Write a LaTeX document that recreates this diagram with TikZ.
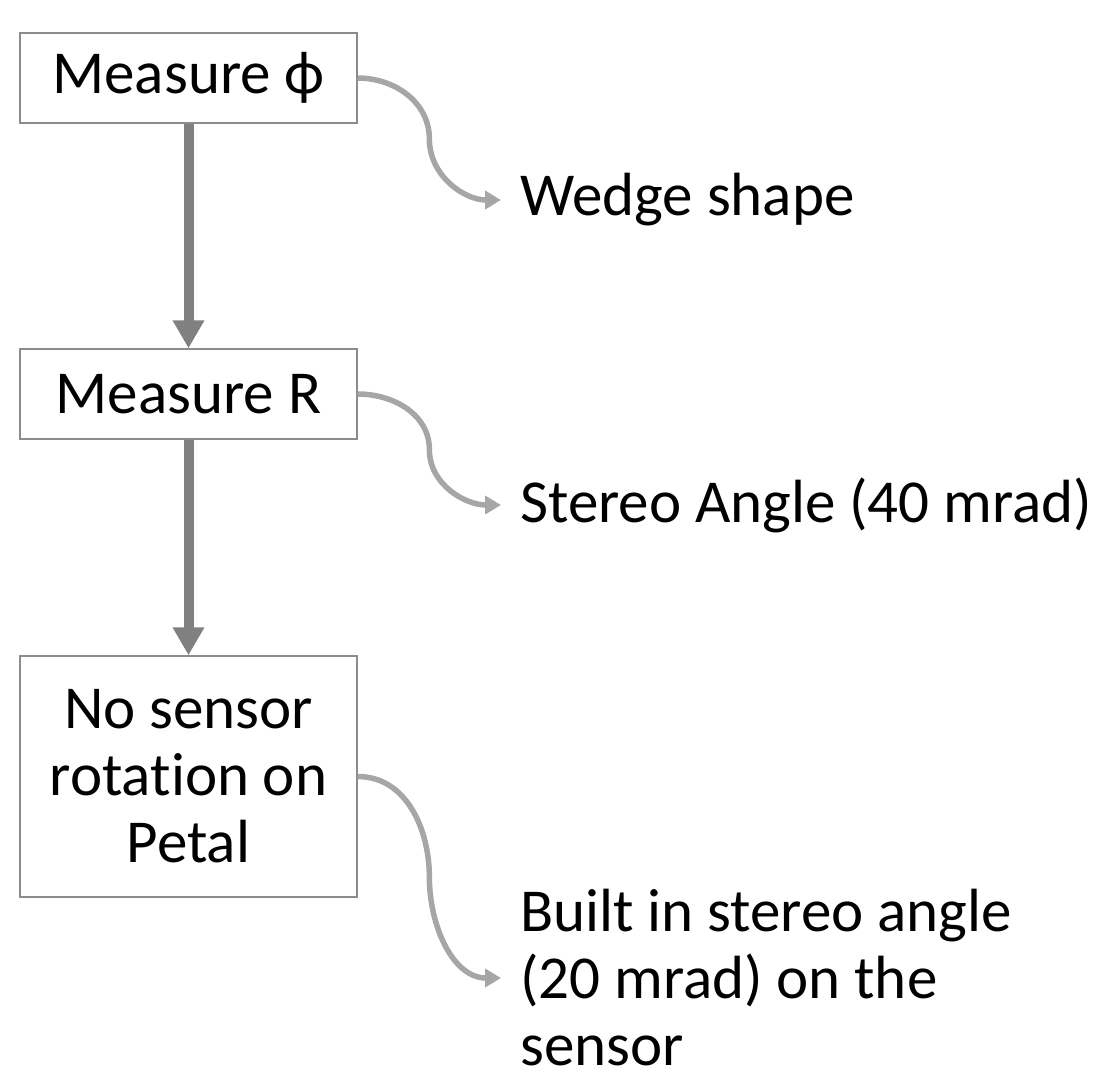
\documentclass[tikz,border=0pt]{standalone}
\usepackage{fontspec}
\setmainfont{Carlito}[Ligatures=NoCommon]
\usetikzlibrary{arrows.meta,calc}

\begin{document}
\begin{tikzpicture}[x=1pt,y=-1pt,
    caja/.style={draw=black!45, line width=1.5pt, minimum width=337pt, minimum height=90pt,
      align=center, inner sep=0pt, font=\fontsize{61}{67}\selectfont},
    texto/.style={anchor=west, align=left, inner sep=0pt, font=\fontsize{61}{67}\selectfont},
    flecha/.style={line width=10pt, draw=black!50, -{Triangle[width=30pt,length=28pt]}},
    curva/.style={line width=5.5pt, draw=black!35, -{Triangle[width=18pt,length=16pt]}}]
        \useasboundingbox (0,0) rectangle (1106,1082);

        % Cajas
        \node[caja] (phi) at (188.5,78) {Measure ϕ};
        \node[caja] (radio) at (188.5,394) {Measure R};
        \node[caja, minimum height=241pt] (petalo) at (188.5,776.5) {No sensor\\rotation on\\Petal};

        % Textos a la derecha
        \node[texto] (cuna) at (520,200) {Wedge shape};
        \node[texto] (estereo) at (520,505) {Stereo Angle (40 mrad)};
        \node[texto] (sensor) at (520,978) {Built in stereo angle\\(20 mrad) on the\\sensor};

        % puntas de las curvas
        \coordinate (p1) at ([xshift=-19pt]cuna.west);
        \coordinate (p2) at ([xshift=-19pt]estereo.west);
        \coordinate (p3) at ([xshift=-19pt]sensor.west);

        % Flechas verticales
        \draw[flecha] (phi) -- (radio);
        \draw[flecha] (radio) -- (petalo);

        % Curvas
        \draw[curva] (phi.east) to[out=0,in=90] ($(phi.east)!0.5!(p1)$) to[out=-90,in=180] (p1);
        \draw[curva] (radio.east) to[out=0,in=90] ($(radio.east)!0.5!(p2)$) to[out=-90,in=180] (p2);
        \draw[curva] (petalo.east) to[out=0,in=90] ($(petalo.east)!0.5!(p3)$) to[out=-90,in=180] (p3);

    \end{tikzpicture}
\end{document}
